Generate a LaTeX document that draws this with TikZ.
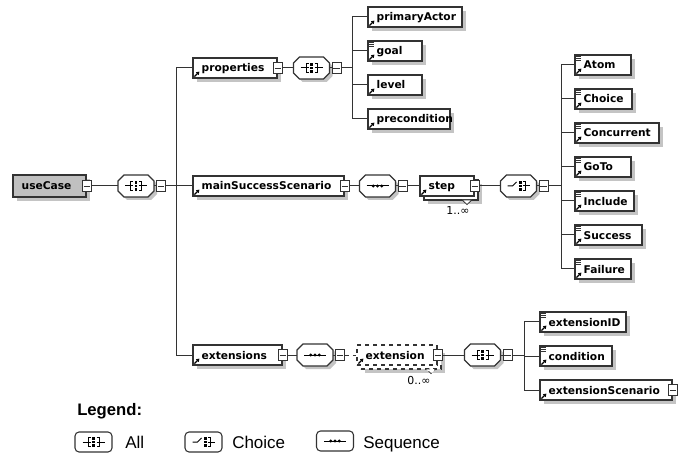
\documentclass[tikz,border=0pt]{standalone}
\usepackage{fontspec}
\setmainfont{Liberation Sans}
\newfontfamily\djv{DejaVu Sans}
\usetikzlibrary{fit,calc,arrows.meta}
\definecolor{lc}{HTML}{333333}
\definecolor{shc}{HTML}{C4C4C4}
\definecolor{ucfill}{HTML}{C0C0C0}
\tikzset{
 conn/.style={draw=lc, line width=0.75pt},
 ebox/.style={draw=lc, line width=0.9pt, fill=white, inner sep=0pt},
 lbl/.style={font=\djv\bfseries\fontsize{8}{9}\selectfont, inner sep=0pt, text=black},
 occ/.style={font=\djv\fontsize{8.2}{9}\selectfont, inner sep=0pt, text=black},
 minusbox/.style={draw=lc, line width=0.7pt, fill=white, minimum width=6.75pt, minimum height=8.25pt, inner sep=0pt},
 refarr/.style={draw=black, line width=0.9pt, -{Triangle[length=2.2pt,width=2.8pt]}},
 icon/.style={draw=black, line width=0.75pt},
 compnode/.style={minimum width=27pt, minimum height=16.5pt, inner sep=0pt},
 legbox/.style={draw=lc, line width=0.8pt, rounded corners=3pt, minimum width=27.75pt, minimum height=15pt, inner sep=0pt},
 legtxt/.style={font=\fontsize{12.75}{15}\selectfont, inner sep=0pt, anchor=base west},
}
% icons, drawn relative to the current origin
\newcommand\xdots{%
 \fill[black] (-1.3,-4.6) rectangle (1.3,-2.0);
 \fill[black] (-1.3,-1.3) rectangle (1.3,1.3);
 \fill[black] (-1.3,2.0) rectangle (1.3,4.6);}
\newcommand\xiall{%
 \draw[icon] (-11,0) -- (-3,0);
 \draw[icon] (-3,-4.5) -- (-5.5,-4.5) -- (-5.5,4.5) -- (-3,4.5);
 \draw[icon] (3,-4.5) -- (5.5,-4.5) -- (5.5,4.5) -- (3,4.5);
 \draw[icon] (3,0) -- (11,0);
 \xdots}
\newcommand\xichoice{%
 \draw[icon] (-11,0) -- (-6,0) -- (-2,-4);
 \begin{scope}[xshift=1.5pt]\xdots\end{scope}
 \draw[icon] (4.5,-4.5) -- (6.5,-4.5) -- (6.5,4.5) -- (4.5,4.5);
 \draw[icon] (4.5,0) -- (11,0);}
\newcommand\xiseq{%
 \draw[icon] (-11,0) -- (11,0);
 \fill[black] (-4.2,0) circle[radius=1.6];
 \fill[black] (0,0) circle[radius=1.6];
 \fill[black] (4.2,0) circle[radius=1.6];}
% minus toggle on a node's east side
\newcommand\xminus[1]{%
 \node[minusbox] (#1-m) at (#1.east) {};
 \draw[lc, line width=0.7pt] ([xshift=-2.3pt]#1-m.center) -- ([xshift=2.3pt]#1-m.center);}
% element box without shadow: [style] name x1 x2 yc text
\newcommand\xbody[6][]{%
 \node[ebox, #1, fit={(#3,#5-10) (#4,#5+10)}] (#2) {};
 \node[lbl, anchor=base west] (#2-t) at ([shift={(9,4)}]#2.west) {#6};
 \draw[refarr] ([shift={(2,-2)}]#2.south west) -- ++(5,-5);}
\newcommand\xelem[5]{%
 \fill[shc] (#2+4,#4-6) rectangle (#3+4,#4+14);
 \xbody{#1}{#2}{#3}{#4}{#5}}
\newcommand\xsimple[1]{%
 \foreach \yy in {2,4,6} \draw[lc, line width=0.5pt] ([shift={(2,\yy)}]#1.north west) -- ++(5,0);}
% compositor: name cx cy icon
\newcommand\xcomp[4]{%
 \node[compnode] (#1) at (#2,#3) {};
 \begin{scope}[shift={(#2,#3)}]
  \fill[shc] (-9,-8) -- (15,-8) -- (21,-2) -- (21,8) -- (15,14) -- (-9,14) -- (-15,8) -- (-15,-2) -- cycle;
  \draw[ebox] (-12,-11) -- (12,-11) -- (18,-5) -- (18,5) -- (12,11) -- (-12,11) -- (-18,5) -- (-18,-5) -- cycle;
  #4
 \end{scope}
 \node[minusbox] (#1-m) at (#2+25,#3) {};
 \draw[lc, line width=0.7pt] ([xshift=-2.3pt]#1-m.center) -- ([xshift=2.3pt]#1-m.center);
 \draw[conn] (#1.east) -- (#1-m.west);}
\begin{document}
\begin{tikzpicture}[x=0.75pt, y=-0.75pt]
\useasboundingbox (0,0) rectangle (694,460);
\fill[white] (0,0) rectangle (694,460);

% ---- root
\fill[shc] (17,179) rectangle (90,201);
\node[ebox, fill=ucfill, fit={(13,175) (86,197)}] (uc) {};
\node[lbl, anchor=base west] (uc-t) at ([shift={(9,4)}]uc.west) {useCase};
\xminus{uc}
\xcomp{c0}{136}{186}{\xiall}
\draw[conn] (uc-m.east) -- (c0.west);

% ---- level 1
\xelem{prop}{193}{277}{68}{properties}
\xminus{prop}
\xelem{mss}{193}{344}{186}{mainSuccessScenario}
\xminus{mss}
\xelem{ext}{193}{282}{355}{extensions}
\xminus{ext}
\coordinate (b1) at (176,186);
\draw[conn] (prop.west) -- (prop.west -| b1) -- (ext.west -| b1) -- (ext.west);
\draw[conn] (mss.west -| b1) -- (mss.west);
\draw[conn] (c0-m.east) -- (b1);

% ---- properties
\xcomp{c1}{311.5}{68}{\xiall}
\draw[conn] (prop-m.east) -- (c1.west);
\xelem{pa}{368}{462}{17}{primaryActor}
\xelem{goal}{368}{422}{51}{goal}\xsimple{goal}
\xelem{lev}{368}{422}{85}{level}
\xelem{pre}{368}{450}{119}{precondition}
\coordinate (b2) at (352,68);
\draw[conn] (pa.west) -- (pa.west -| b2) -- (pre.west -| b2) -- (pre.west);
\draw[conn] (goal.west -| b2) -- (goal.west);
\draw[conn] (lev.west -| b2) -- (lev.west);
\draw[conn] (c1-m.east) -- (b2);

% ---- main success scenario
\xcomp{c2}{377.5}{186}{\xiseq}
\draw[conn] (mss-m.east) -- (c2.west);
\fill[shc] (428,184) rectangle (482,204);
\node[ebox, fit={(424,180) (478,200)}] (stepb) {};
\xbody{step}{420}{474}{186}{step}
\xminus{step}
\filldraw[draw=lc, fill=white, line width=0.6pt] (462,200) -- (472,200) -- (467,204.5) -- cycle;
\node[occ] (stepocc) at (458,211) {1..∞};
\draw[conn] (c2-m.east) -- (step.west);
\xcomp{c3}{518.5}{186}{\xichoice}
\draw[conn] (step-m.east) -- (c3.west);
\xelem{at}{575}{631}{65}{Atom}\xsimple{at}
\xelem{ch}{575}{632}{99}{Choice}\xsimple{ch}
\xelem{co}{575}{659}{133}{Concurrent}\xsimple{co}
\xelem{gt}{575}{631}{167}{GoTo}\xsimple{gt}
\xelem{inc}{575}{634}{201}{Include}\xsimple{inc}
\xelem{suc}{575}{642}{235}{Success}\xsimple{suc}
\xelem{fai}{575}{631}{269}{Failure}\xsimple{fai}
\coordinate (b3) at (561,186);
\draw[conn] (at.west) -- (at.west -| b3) -- (fai.west -| b3) -- (fai.west);
\foreach \nn in {ch,co,gt,inc,suc} \draw[conn] (\nn.west -| b3) -- (\nn.west);
\draw[conn] (c3-m.east) -- (b3);

% ---- extensions
\xcomp{c4}{315}{355}{\xiseq}
\draw[conn] (ext-m.east) -- (c4.west);
\fill[shc] (365,353) rectangle (445,373);
\node[ebox, dashed, fit={(361,349) (441,369)}] (extnb) {};
\xbody[dashed]{extn}{357}{437}{355}{extension}
\xminus{extn}
\filldraw[draw=lc, fill=white, dashed, line width=0.6pt] (426,369) -- (436,369) -- (431,373.5) -- cycle;
\node[occ] (extnocc) at (419,381) {0..∞};
\draw[conn, dashed] (c4-m.east) -- (extn.west);
\xcomp{c5}{482.5}{355}{\xiall}
\draw[conn] (extn-m.east) -- (c5.west);
\xelem{eid}{540}{626}{322}{extensionID}\xsimple{eid}
\xelem{cond}{540}{612}{356}{condition}\xsimple{cond}
\xelem{esc}{540}{672}{390}{extensionScenario}
\xminus{esc}
\coordinate (b4) at (524,355);
\draw[conn] (eid.west) -- (eid.west -| b4) -- (esc.west -| b4) -- (esc.west);
\draw[conn] (cond.west -| b4) -- (cond.west);
\draw[conn] (c5-m.east) -- (b4);

% ---- legend
\node[legtxt, font=\bfseries\fontsize{12.5}{15}\selectfont] (legt) at (77,415) {Legend:};
\node[legbox] (la) at (93.5,442) {};
\begin{scope}[shift={(93.5,442)}]\xiall\end{scope}
\node[legtxt] (lat) at (125,448) {All};
\node[legbox] (lc) at (203.5,442) {};
\begin{scope}[shift={(203.5,442)}]\xichoice\end{scope}
\node[legtxt] (lct) at (232,448) {Choice};
\node[legbox] (ls) at (335,441) {};
\begin{scope}[shift={(335,441)}]\xiseq\end{scope}
\node[legtxt] (lst) at (363,448) {Sequence};
\end{tikzpicture}
\end{document}
